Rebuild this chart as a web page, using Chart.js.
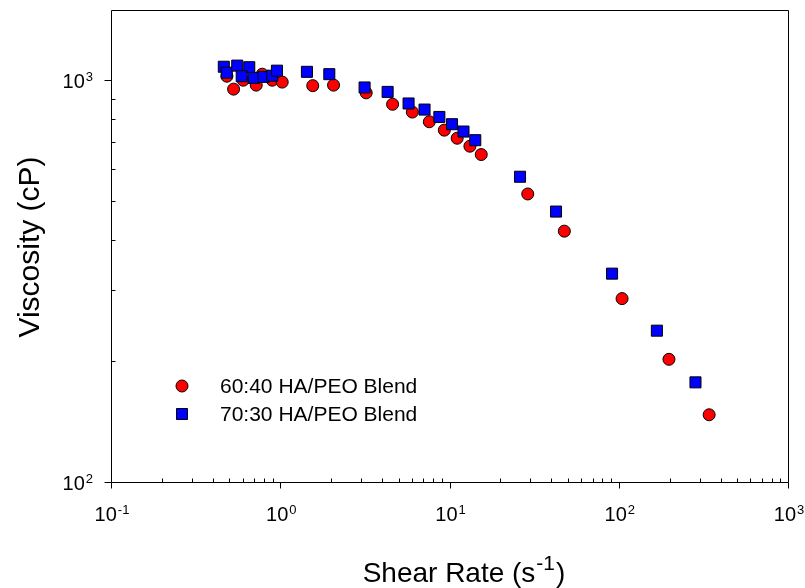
<!DOCTYPE html>
<html>
<head>
<meta charset="utf-8">
<script src="https://cdn.jsdelivr.net/npm/chart.js@4/dist/chart.umd.min.js"></script>
<style>
  html, body { margin: 0; padding: 0; background: #ffffff; }
  canvas { display: block; }
</style>
</head>
<body>
<canvas id="c" width="805" height="588"></canvas>
<script>
// ---- Data ----
const seriesLabels = ['60:40 HA/PEO Blend', '70:30 HA/PEO Blend'];

const shearRate6040 = [0.484, 0.530, 0.604, 0.721, 0.783, 0.897, 1.027, 1.556, 2.065, 3.22, 4.61, 6.03, 7.60, 9.32, 11.1, 13.2, 15.4, 29.0, 47.7, 104.6, 198, 342];
const viscosity6040 = [1023, 950, 1000, 972, 1035, 1000, 989, 969, 972, 930, 871, 833, 788, 751, 717, 685, 653, 521, 421, 286, 202, 147];

const shearRate7030 = [0.464, 0.483, 0.557, 0.656, 0.592, 0.697, 0.797, 0.897, 0.956, 1.438, 1.949, 3.15, 4.31, 5.73, 7.12, 8.71, 10.35, 12.1, 14.2, 26.1, 42.6, 91.3, 168, 284];
const viscosity7030 = [1080, 1044, 1087, 1077, 1023, 1013, 1019, 1026, 1056, 1049, 1035, 959, 935, 875, 845, 810, 777, 745, 709, 575, 471, 330, 238, 177];

const xTickValues = [0.1, 1, 10, 100, 1000];
const xTickExponents = ['-1', '0', '1', '2', '3'];
const yTickValues = [100, 1000];
const yTickExponents = ['2', '3'];
const xAxisTitle = ['Shear Rate (s', '-1', ')'];
const yAxisTitle = 'Viscosity (cP)';

const FONT = '"Liberation Sans", Arial, Helvetica, sans-serif';

function toPoints(xs, ys) { return xs.map((v, i) => ({ x: v, y: ys[i] })); }

function drawPow(ctx, base, exp, x, baseline, align, baseSize, expSize, raise) {
  ctx.font = baseSize + 'px ' + FONT;
  const wb = ctx.measureText(base).width;
  ctx.font = expSize + 'px ' + FONT;
  const we = ctx.measureText(exp).width;
  const total = wb + 1 + we;
  let start = x;
  if (align === 'center') start = x - total / 2;
  else if (align === 'right') start = x - total;
  ctx.textAlign = 'left';
  ctx.textBaseline = 'alphabetic';
  ctx.font = baseSize + 'px ' + FONT;
  ctx.fillText(base, start, baseline);
  ctx.font = expSize + 'px ' + FONT;
  ctx.fillText(exp, start + wb + 1, baseline - raise);
}

const sigmaAxes = {
  id: 'sigmaAxes',
  beforeDatasetsDraw(chart) {
    const { ctx, chartArea: a, scales } = chart;
    const xs = scales.x, ys = scales.y;
    const L = Math.round(a.left) + 0.5, R = Math.round(a.right) + 0.5;
    const T = Math.round(a.top) + 0.5, B = Math.round(a.bottom) + 0.5;
    ctx.save();
    ctx.strokeStyle = '#000';
    ctx.lineWidth = 1;
    ctx.beginPath();
    ctx.rect(L, T, R - L, B - T);
    ctx.stroke();
    ctx.beginPath();
    // x ticks
    xTickValues.forEach(v => {
      const px = Math.round(xs.getPixelForValue(v)) + 0.5;
      ctx.moveTo(px, B); ctx.lineTo(px, B + 6);
    });
    for (let d = 0; d < xTickValues.length - 1; d++) {
      for (let m = 2; m <= 9; m++) {
        const px = Math.round(xs.getPixelForValue(m * xTickValues[d])) + 0.5;
        ctx.moveTo(px, B); ctx.lineTo(px, B - 4);
      }
    }
    // y ticks
    yTickValues.forEach(v => {
      const py = Math.round(ys.getPixelForValue(v)) + 0.5;
      ctx.moveTo(L, py); ctx.lineTo(L - 7, py);
    });
    for (let m = 2; m <= 9; m++) {
      const py = Math.round(ys.getPixelForValue(m * yTickValues[0])) + 0.5;
      ctx.moveTo(L, py); ctx.lineTo(L + 4, py);
    }
    ctx.stroke();
    ctx.restore();
  },
  afterDraw(chart) {
    const { ctx, chartArea: a, scales } = chart;
    const xs = scales.x, ys = scales.y;
    ctx.save();
    ctx.fillStyle = '#000';
    // tick labels
    xTickValues.forEach((v, i) => {
      drawPow(ctx, '10', xTickExponents[i], xs.getPixelForValue(v) + 1, a.bottom + 39, 'center', 20, 13, 7);
    });
    yTickValues.forEach((v, i) => {
      drawPow(ctx, '10', yTickExponents[i], a.left - 18, ys.getPixelForValue(v) + 8, 'right', 20, 13, 7);
    });
    // y title
    ctx.save();
    ctx.translate(31, 247);
    ctx.rotate(-Math.PI / 2);
    ctx.font = '30px ' + FONT;
    ctx.textAlign = 'center';
    ctx.textBaseline = 'middle';
    ctx.fillText(yAxisTitle, 0, 0);
    ctx.restore();
    // x title
    ctx.font = '28px ' + FONT;
    const w0 = ctx.measureText(xAxisTitle[0]).width;
    ctx.font = '21px ' + FONT;
    const w1 = ctx.measureText(xAxisTitle[1]).width;
    ctx.font = '28px ' + FONT;
    const w2 = ctx.measureText(xAxisTitle[2]).width;
    const total = w0 + w1 + w2 + 2;
    let sx = 464 - total / 2;
    const bl = 582;
    ctx.textAlign = 'left';
    ctx.textBaseline = 'alphabetic';
    ctx.fillText(xAxisTitle[0], sx, bl);
    ctx.font = '21px ' + FONT;
    ctx.fillText(xAxisTitle[1], sx + w0 + 1, bl - 12);
    ctx.font = '28px ' + FONT;
    ctx.fillText(xAxisTitle[2], sx + w0 + w1 + 2, bl);
    // legend
    const lx = 182, ly = [386, 414];
    ctx.lineWidth = 1;
    ctx.strokeStyle = '#000';
    ctx.fillStyle = '#ff0000';
    ctx.beginPath(); ctx.arc(lx, ly[0], 6, 0, Math.PI * 2); ctx.fill(); ctx.stroke();
    ctx.fillStyle = '#0000ff';
    ctx.beginPath(); ctx.rect(lx - 5.5, ly[1] - 5.5, 11, 11); ctx.fill(); ctx.stroke();
    ctx.fillStyle = '#000';
    ctx.font = '21px ' + FONT;
    ctx.textBaseline = 'middle';
    ctx.fillText(seriesLabels[0], 220, ly[0] + 1);
    ctx.fillText(seriesLabels[1], 220, ly[1] + 1);
    ctx.restore();
  }
};

new Chart(document.getElementById('c'), {
  type: 'scatter',
  data: {
    datasets: [
      {
        label: seriesLabels[0],
        data: toPoints(shearRate6040, viscosity6040),
        pointStyle: 'circle',
        pointRadius: 6,
        backgroundColor: '#ff0000',
        borderColor: '#000000',
        borderWidth: 1,
        order: 1
      },
      {
        label: seriesLabels[1],
        data: toPoints(shearRate7030, viscosity7030),
        pointStyle: 'rect',
        pointRadius: 7.8,
        backgroundColor: '#0000ff',
        borderColor: '#000000',
        borderWidth: 1,
        order: 0
      }
    ]
  },
  options: {
    responsive: false,
    animation: false,
    devicePixelRatio: 1,
    layout: { padding: { left: 111, right: 17, top: 10, bottom: 106 } },
    plugins: { legend: { display: false }, tooltip: { enabled: false }, title: { display: false } },
    scales: {
      x: { type: 'logarithmic', min: 0.1, max: 1000, display: false },
      y: { type: 'logarithmic', min: 100, max: 1495, display: false }
    }
  },
  plugins: [sigmaAxes]
});
</script>
</body>
</html>
